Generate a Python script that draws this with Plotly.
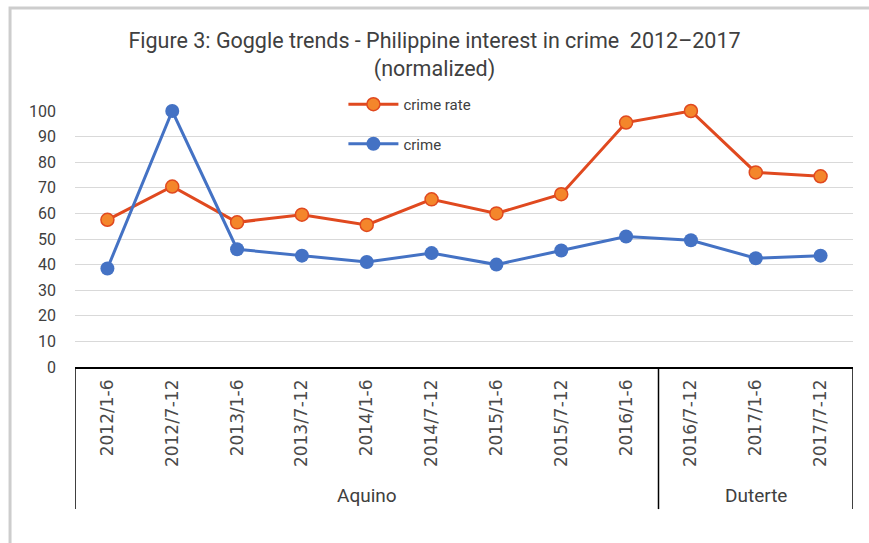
import plotly.graph_objects as go

# Data
periods = [
    "2012/1-6", "2012/7-12", "2013/1-6", "2013/7-12", "2014/1-6", "2014/7-12",
    "2015/1-6", "2015/7-12", "2016/1-6", "2016/7-12", "2017/1-6", "2017/7-12",
]
groups = ["Aquino", "Duterte"]
group_sizes = [9, 3]
crime_rate = [57.5, 70.5, 56.5, 59.5, 55.5, 65.5, 60, 67.5, 95.5, 100, 76, 74.5]
crime = [38.5, 100, 46, 43.5, 41, 44.5, 40, 45.5, 51, 49.5, 42.5, 43.5]

TEXT = "#404040"
ORANGE_LINE = "#E0491F"
ORANGE_FILL = "#F4862B"
BLUE = "#4472C4"

fig = go.Figure()

fig.add_trace(
    go.Scatter(
        x=periods,
        y=crime_rate,
        mode="lines+markers",
        name="crime rate",
        legendgroup="rate",
        line={"color": ORANGE_LINE, "width": 3},
        marker={"size": 13, "color": ORANGE_FILL,
                "line": {"color": ORANGE_LINE, "width": 1.5}},
        cliponaxis=False,
    )
)
fig.add_trace(
    go.Scatter(
        x=periods,
        y=crime,
        mode="lines+markers",
        name="crime",
        legendgroup="crime",
        line={"color": BLUE, "width": 3},
        marker={"size": 14, "color": BLUE},
        cliponaxis=False,
    )
)

# light grey frame around the whole chart (partly cropped like the source)
fig.add_shape(
    type="rect", xref="paper", yref="paper",
    x0=-0.0835, x1=1.06, y0=-0.8, y1=1.402,
    line={"color": "#CDCDCD", "width": 3}, fillcolor="rgba(0,0,0,0)",
    layer="below",
)

# group box under the category labels (Excel-style two-level axis)
BOX_BOTTOM = -0.555
edge = -0.5
fig.add_shape(type="line", xref="x", yref="paper", x0=edge, x1=edge,
              y0=0, y1=BOX_BOTTOM, line={"color": "black", "width": 1.5})
for name, size in zip(groups, group_sizes):
    fig.add_annotation(
        x=edge + size / 2, xref="x", y=-0.5, yref="paper",
        text=name, showarrow=False, yanchor="middle",
        font={"size": 19, "color": TEXT},
    )
    edge += size
    fig.add_shape(type="line", xref="x", yref="paper", x0=edge, x1=edge,
                  y0=0, y1=BOX_BOTTOM, line={"color": "black", "width": 1.5})

fig.update_layout(
    width=869,
    height=543,
    paper_bgcolor="white",
    plot_bgcolor="white",
    font={"family": "Roboto, Arial, sans-serif", "color": TEXT, "size": 14},
    title={
        "text": "Figure 3: Goggle trends - Philippine interest in crime  2012\u20132017"
                "<br>(normalized)",
        "x": 0.5,
        "xanchor": "center",
        "y": 0.912,
        "yanchor": "top",
        "font": {"size": 21.5, "color": TEXT},
    },
    legend={
        "x": 0.345,
        "y": 1.09,
        "xanchor": "left",
        "yanchor": "top",
        "bgcolor": "rgba(0,0,0,0)",
        "tracegroupgap": 17,
        "itemwidth": 50,
        "font": {"size": 15, "color": TEXT},
    },
    showlegend=True,
    margin={"l": 75, "r": 16, "t": 111, "b": 176},
)

fig.update_yaxes(
    range=[0, 100],
    dtick=10,
    showgrid=True,
    gridcolor="#D9D9D9",
    gridwidth=1,
    zeroline=False,
    showline=False,
    ticks="",
    tickfont={"size": 16, "color": TEXT},
    ticklabelstandoff=18,
)
fig.update_xaxes(
    type="category",
    range=[-0.5, 11.5],
    showline=True,
    linecolor="black",
    linewidth=1.5,
    mirror=False,
    showgrid=False,
    ticks="",
    tickangle=-90,
    ticklabelstandoff=4,
    tickfont={"size": 17, "color": "#4a4a4a", "family": "DejaVu Sans, sans-serif"},
)

fig.write_html(
    "out.html",
    config={"displayModeBar": False},
    post_script="document.body.style.margin='0';",
)
